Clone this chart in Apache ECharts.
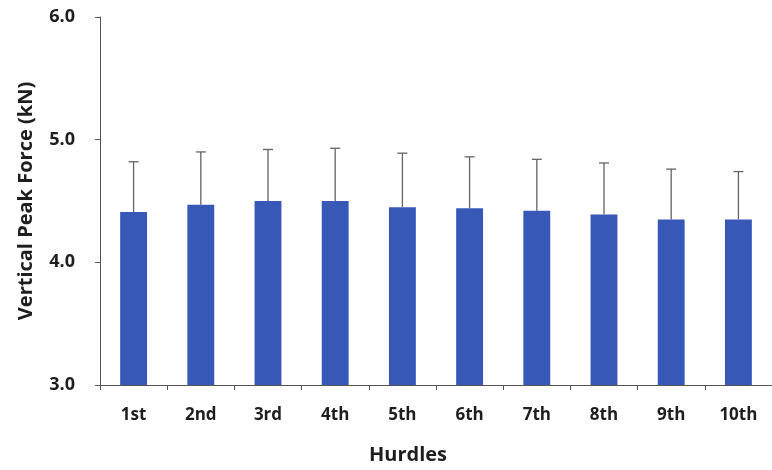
<!DOCTYPE html>
<html>
<head>
<meta charset="utf-8">
<script src="https://cdn.jsdelivr.net/npm/echarts@6/dist/echarts.min.js"></script>
<style>
  html, body { margin: 0; padding: 0; background: #ffffff; }
  #chart { width: 772px; height: 470px; }
</style>
</head>
<body>
<div id="chart"></div>
<script>
// Hurdle order along the x axis
const hurdles = ['1st', '2nd', '3rd', '4th', '5th', '6th', '7th', '8th', '9th', '10th'];
// Mean vertical peak force per hurdle (kN)
const peakForce = [4.41, 4.47, 4.50, 4.50, 4.45, 4.44, 4.42, 4.39, 4.35, 4.35];
// Standard deviation drawn as an upward error bar (kN)
const peakForceSD = [0.41, 0.43, 0.42, 0.43, 0.44, 0.42, 0.42, 0.42, 0.41, 0.39];
// Value axis ticks
const yTicks = [3.0, 4.0, 5.0, 6.0];

const FONT = '"Open Sans", Lato, sans-serif';
const TEXT = '#1e1e1e';

const chart = echarts.init(document.getElementById('chart'));

const errorData = hurdles.map((h, i) => [i, peakForce[i], peakForce[i] + peakForceSD[i]]);

chart.setOption({
  animation: false,
  backgroundColor: '#ffffff',
  grid: { left: 100, right: -4, top: 17, bottom: 84.5 },
  xAxis: {
    type: 'category',
    data: hurdles,
    name: 'Hurdles',
    nameLocation: 'middle',
    nameGap: 60,
    nameTextStyle: { fontFamily: FONT, fontWeight: 'bold', fontSize: 20, color: TEXT, padding: [0, 56, 0, 0] },
    axisLine: { lineStyle: { color: '#555', width: 1 } },
    axisTick: { show: true, alignWithLabel: false, length: 5, lineStyle: { color: '#555' } },
    axisLabel: { fontFamily: FONT, fontWeight: 'bold', fontSize: 17, color: TEXT, margin: 22 }
  },
  yAxis: {
    type: 'value',
    min: yTicks[0],
    max: yTicks[yTicks.length - 1],
    interval: 1,
    name: 'Vertical Peak Force (kN)',
    nameLocation: 'middle',
    nameGap: 64,
    nameTextStyle: { fontFamily: FONT, fontWeight: 'bold', fontSize: 20, color: TEXT },
    axisLine: { show: true, lineStyle: { color: '#555', width: 1 } },
    axisTick: { show: true, length: 5, lineStyle: { color: '#555' } },
    splitLine: { show: false },
    axisLabel: {
      fontFamily: FONT, fontWeight: 'bold', fontSize: 18, color: TEXT, margin: 25,
      formatter: v => v.toFixed(1)
    }
  },
  series: [
    {
      type: 'bar',
      data: peakForce,
      barWidth: '40%',
      itemStyle: { color: '#3758B7' },
      z: 2
    },
    {
      type: 'custom',
      data: errorData,
      z: 3,
      renderItem: (params, api) => {
        const base = api.coord([api.value(0), api.value(1)]);
        const top = api.coord([api.value(0), api.value(2)]);
        const half = 5;
        const style = { stroke: '#6b6062', lineWidth: 1.3 };
        return {
          type: 'group',
          children: [
            { type: 'line', shape: { x1: base[0], y1: base[1], x2: top[0], y2: top[1] }, style },
            { type: 'line', shape: { x1: top[0] - half, y1: top[1], x2: top[0] + half, y2: top[1] }, style }
          ]
        };
      }
    }
  ]
});
</script>
</body>
</html>
